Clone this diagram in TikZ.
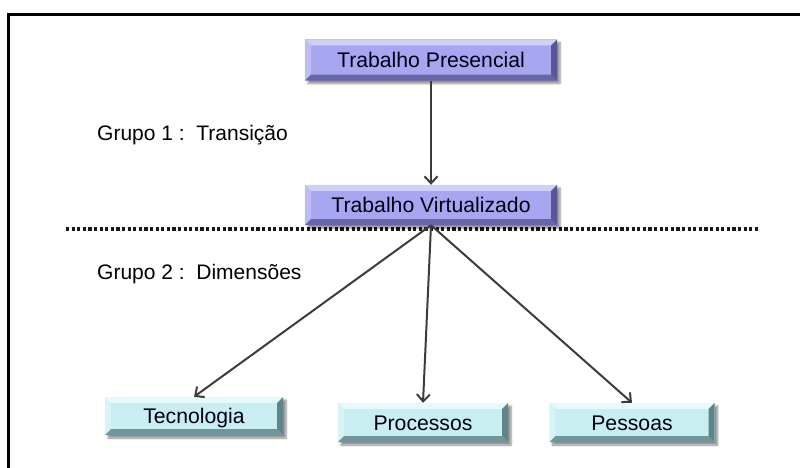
\documentclass[tikz,border=0pt]{standalone}
\usepackage{fontspec}
\setmainfont{Liberation Sans}
\usetikzlibrary{calc,arrows.meta,shadows.blur}

% colour sets for the bevelled boxes
\definecolor{lavMain}{RGB}{168,166,240}
\definecolor{lavTop}{RGB}{208,207,252}
\definecolor{lavLeft}{RGB}{190,188,247}
\definecolor{lavBottom}{RGB}{104,102,165}
\definecolor{lavRight}{RGB}{88,86,148}
\definecolor{cyMain}{RGB}{200,238,241}
\definecolor{cyTop}{RGB}{228,250,252}
\definecolor{cyLeft}{RGB}{214,244,247}
\definecolor{cyBottom}{RGB}{112,150,155}
\definecolor{cyRight}{RGB}{96,132,137}
\definecolor{linkgray}{RGB}{60,60,60}

\tikzset{
  boxbase/.style={draw=none, inner sep=0pt,
    blur shadow={shadow xshift=3pt, shadow yshift=-3pt, shadow blur steps=6, shadow opacity=45}},
  lavbox/.style={boxbase, fill=lavMain},
  cybox/.style={boxbase, fill=cyMain},
  boxtext/.style={inner sep=0pt, text height=15pt, text depth=0pt,
    font=\fontsize{21.2}{24}\selectfont, text=black!92!blue},
  link/.style={draw=linkgray, line width=2pt, -{Straight Barb[length=7pt,width=13pt,line width=2pt]}},
  grouplabel/.style={anchor=west, inner sep=0pt, text height=15pt, text depth=0pt,
    font=\fontsize{21}{24}\selectfont},
}

% bevelled edges drawn over a named rectangular node
\newcommand\bevel[5]{%
  \fill[#2] (#1.north west) -- (#1.north east) -- ($(#1.north east)+(-6pt,-6pt)$) -- ($(#1.north west)+(6pt,-6pt)$) -- cycle;
  \fill[#3] (#1.north west) -- (#1.south west) -- ($(#1.south west)+(6pt,6pt)$) -- ($(#1.north west)+(6pt,-6pt)$) -- cycle;
  \fill[#4] (#1.south west) -- (#1.south east) -- ($(#1.south east)+(-6pt,6pt)$) -- ($(#1.south west)+(6pt,6pt)$) -- cycle;
  \fill[#5] (#1.north east) -- (#1.south east) -- ($(#1.south east)+(-6pt,6pt)$) -- ($(#1.north east)+(-6pt,-6pt)$) -- cycle;
}

\begin{document}
\begin{tikzpicture}[x=1pt,y=-1pt]
\useasboundingbox (0,0) rectangle (800,468);

% page frame (left and top edges)
\draw[line width=3pt] (8.5,468) -- (8.5,14.5) -- (800,14.5);

% separator between the two groups
\coordinate (sepL) at (66,229);
\coordinate (sepR) at (760,229);
\draw[line width=3.2pt, dash pattern=on 3.2pt off 2.4pt, color=black!90] (sepL) -- (sepR);

% group labels
\node[grouplabel] (g1) at (97,133.5) {Grupo 1 :\ \ Transição};
\node[grouplabel] (g2) at (97,272) {Grupo 2 :\ \ Dimensões};

% boxes
\node[lavbox, minimum width=252pt, minimum height=41pt] (pres) at (431,60) {};
\bevel{pres}{lavTop}{lavLeft}{lavBottom}{lavRight}
\node[boxtext] at (pres) {Trabalho Presencial};

\node[lavbox, minimum width=252pt, minimum height=40pt] (virt) at (431,205) {};
\bevel{virt}{lavTop}{lavLeft}{lavBottom}{lavRight}
\node[boxtext] at (virt) {Trabalho Virtualizado};

\node[cybox, minimum width=178pt, minimum height=38pt] (tec) at (194,416) {};
\bevel{tec}{cyTop}{cyLeft}{cyBottom}{cyRight}
\node[boxtext] at (tec) {Tecnologia};

\node[cybox, minimum width=170pt, minimum height=39pt] (proc) at (423,422.5) {};
\bevel{proc}{cyTop}{cyLeft}{cyBottom}{cyRight}
\node[boxtext] at (proc) {Processos};

\node[cybox, minimum width=165pt, minimum height=39pt] (pess) at (632,422.5) {};
\bevel{pess}{cyTop}{cyLeft}{cyBottom}{cyRight}
\node[boxtext] at (pess) {Pessoas};

% connectors
\draw[link] (pres.south) -- (virt.north);
\draw[link] (virt.south) -- (tec.north);
\draw[link] (virt.south) -- (proc.north);
\draw[link] (virt.south) -- (pess.north);
\end{tikzpicture}
\end{document}
